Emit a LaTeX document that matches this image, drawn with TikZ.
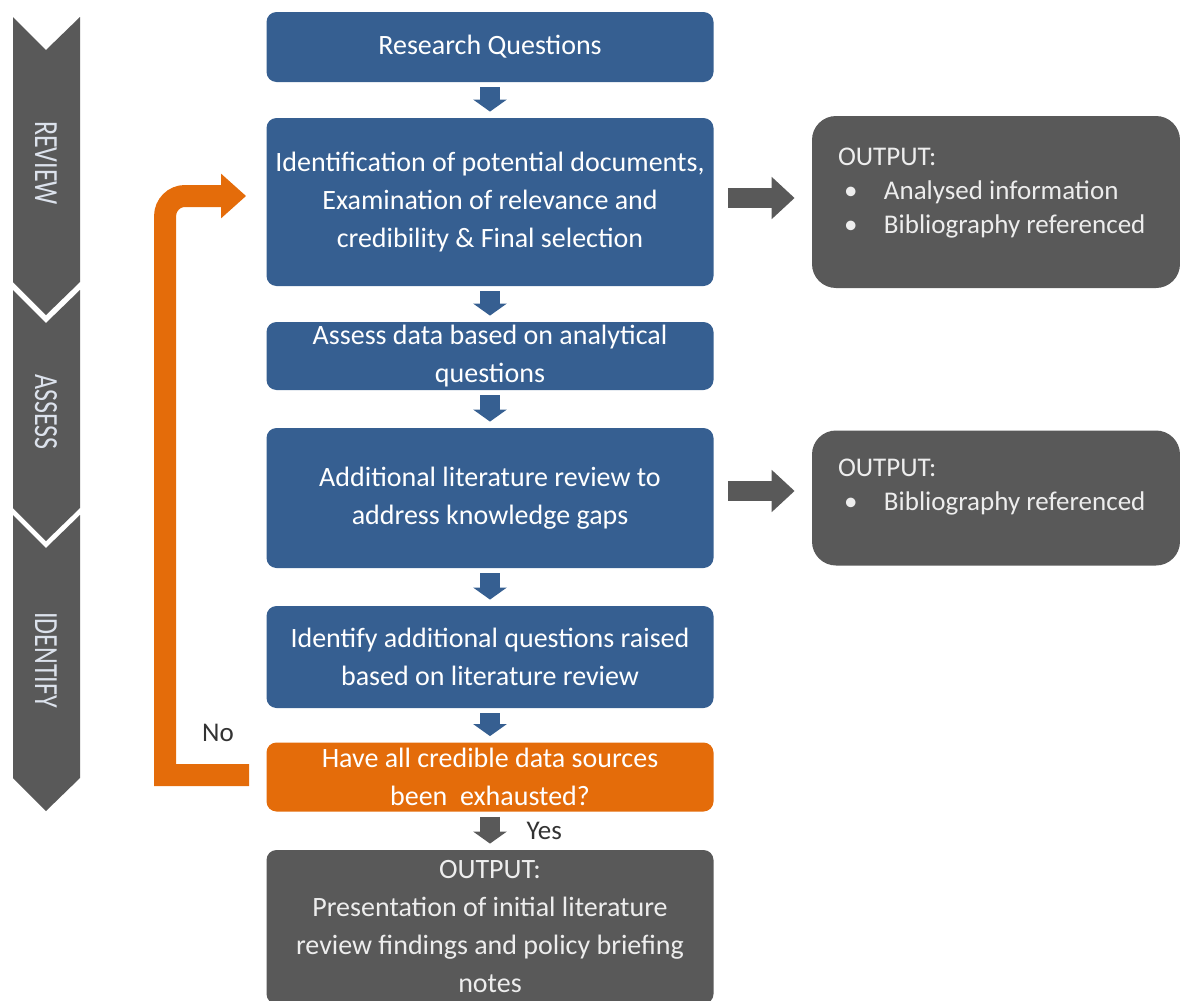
\documentclass[tikz,border=0pt]{standalone}
\usepackage{fontspec}
\setmainfont{Carlito}
\usetikzlibrary{positioning,arrows.meta,calc}

\definecolor{boxblue}{RGB}{54,95,145}
\definecolor{floworange}{RGB}{228,108,10}
\definecolor{outgrey}{RGB}{89,89,89}
\definecolor{phasetext}{RGB}{220,226,236}

\newcommand{\outline}[1]{\makebox[158pt][l]{#1}}
\newcommand{\outitem}[1]{\outline{\makebox[3pt]{}\makebox[20pt][l]{\textbullet}#1}}

\begin{document}
\begin{tikzpicture}[x=0.5pt, y=-0.5pt, node distance=70pt, on grid,
    blockbox/.style={rectangle, rounded corners=5pt, fill=boxblue, text=white,
      minimum width=223.5pt, inner sep=0pt, align=center,
      font=\fontsize{14}{19}\selectfont},
    outbox/.style={blockbox, fill=outgrey, text=white!93!black},
    sidebox/.style={rectangle, rounded corners=12pt, fill=outgrey, text=white!93!black,
      minimum width=184pt, inner sep=0pt, align=left,
      font=\fontsize{13.5}{17}\selectfont},
    downarrow/.style={draw=boxblue, line width=10pt,
      -{Triangle[length=6pt, width=16.5pt]}, shorten <=2.5pt, shorten >=3pt},
    sidearrow/.style={draw=outgrey, line width=10pt,
      -{Triangle[length=11.5pt, width=20.5pt]}, shorten <=7pt, shorten >=8.5pt},
    backarrow/.style={draw=floworange, line width=11pt,
      -{Triangle[length=12.5pt, width=21.5pt]}, shorten <=8.5pt, shorten >=10pt},
    chevron/.style={fill=outgrey},
    phase/.style={rotate=-90, text=phasetext, font=\fontsize{13}{13}\selectfont},
    remark/.style={text=black!80, font=\fontsize{13.5}{13.5}\selectfont}]

    \useasboundingbox (0,0) rectangle (1180,1001);

    % Phasen
    \foreach \top/\bot in {17/282, 290/508, 515/778}
      \fill[chevron] (13,\top) -- (46,\top+33) -- (80,\top) -- (80,\bot)
        -- (46,\bot+33) -- (13,\bot) -- cycle;
    \node[phase] (review) at (46,163) {\scalebox{1}[1.3]{REVIEW}};
    \node[phase] (assess) at (46,412) {\scalebox{1}[1.3]{ASSESS}};
    \node[phase] (identify) at (46,660) {\scalebox{1}[1.3]{IDENTIFY}};

    % Kästen
    \node[blockbox, minimum height=35pt] (rq) at (490,47) {Research Questions};
    \node[blockbox, minimum height=84pt, below=77.5pt of rq] (id)
      {Identification of potential documents,\\Examination of relevance and\\credibility \& Final selection};
    \node[blockbox, minimum height=34pt, below=77pt of id] (as)
      {Assess data based on analytical\\questions};
    \node[blockbox, minimum height=70pt, below=71pt of as] (al)
      {Additional literature review to\\address knowledge gaps};
    \node[blockbox, minimum height=51pt, below=79.5pt of al] (iq)
      {Identify additional questions raised\\based on literature review};
    \node[blockbox, fill=floworange, minimum height=34.5pt, below=60pt of iq] (q)
      {Have all credible data sources\\been\ \ exhausted?};
    \node[outbox, minimum height=77pt, below=75pt of q] (out)
      {OUTPUT:\\Presentation of initial literature\\review findings and policy briefing\\notes};

    \node[sidebox, minimum height=86pt, text depth=11pt, right=253pt of id] (res1)
      {\outline{OUTPUT:}\\\outitem{Analysed information}\\\outitem{Bibliography referenced}};
    \node[sidebox, minimum height=67.5pt, text depth=13pt, right=253pt of al] (res2)
      {\outline{OUTPUT:}\\\outitem{Bibliography referenced}};

    \node[remark] (no) at (218,733) {No};

    % Pfeile
    \path[downarrow] (rq) -- (id);
    \path[downarrow] (id) -- (as);
    \path[downarrow] (as) -- (al);
    \path[downarrow] (al) -- (iq);
    \path[downarrow] (iq) -- (q);
    \path[downarrow, draw=outgrey] (q) -- node[midway, anchor=west, xshift=10pt,
      remark] (yes) {Yes} (out);

    \path[sidearrow] ($(id.east)+(0,-4)$) -- ($(res1.west)+(0,-4)$);
    \path[sidearrow] ($(al.east)+(0,-7)$) -- ($(res2.west)+(0,-7)$);

    \path[backarrow] ($(q.west)+(0,-2)$) -- ++(-101,0) [rounded corners=10pt]
      |- ($(id.west)+(0,-6)$);

\end{tikzpicture}
\end{document}
